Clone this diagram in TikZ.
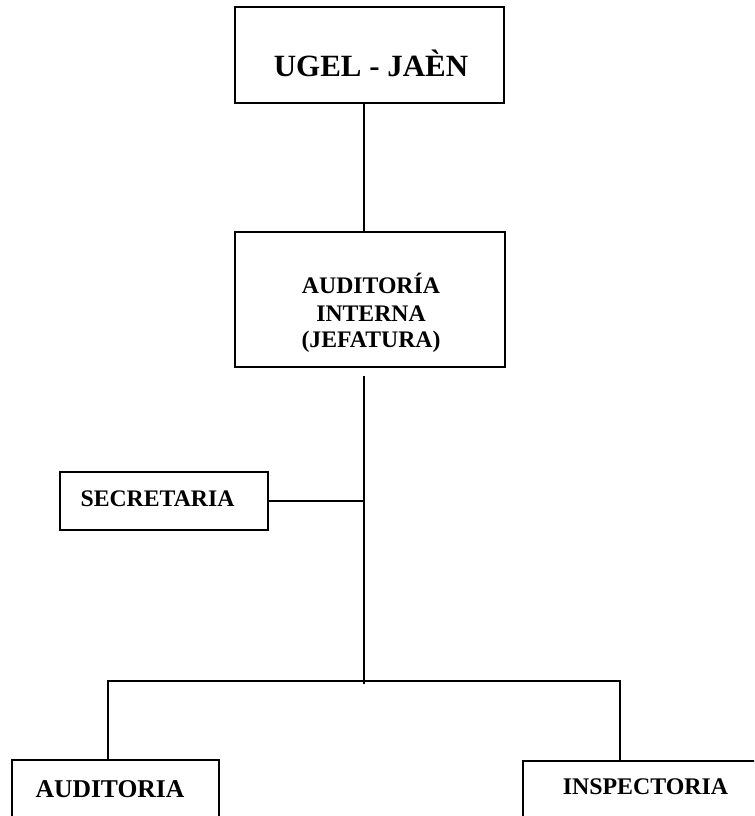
\documentclass[tikz,border=0pt]{standalone}
\usepackage{fontspec}
\setmainfont{Liberation Serif}
\begin{document}
\begin{tikzpicture}[x=0.75pt,y=-0.75pt,
  box/.style={draw=black,line width=1.4pt,rectangle,inner sep=0pt,fill=none},
  link/.style={draw=black,line width=1.4pt},
  lbl/.style={anchor=base,inner sep=0pt,font=\bfseries}]
\useasboundingbox (0,0) rectangle (754,816);
\clip (0,0) rectangle (754,816);
% boxes
\node[box,minimum width=201.75pt,minimum height=72pt] (ugel) at (369.5,55) {};
\node[box,minimum width=202.5pt,minimum height=101.25pt] (aud) at (370,299.5) {};
\node[box,minimum width=156pt,minimum height=43.5pt] (sec) at (164,501) {};
\node[box,minimum width=155.25pt,minimum height=60pt] (audb) at (115.5,800) {};
\node[box,minimum width=207.75pt,minimum height=59.25pt] (insp) at (661.5,800.5) {};
% texts
\node[lbl,font=\fontsize{23.2}{26}\selectfont\bfseries] (tugel) at (371,77) {UGEL - JAÈN};
\node[lbl,font=\fontsize{17.8}{21}\selectfont\bfseries] (taud1) at (371,293) {AUDITORÍA};
\node[lbl,font=\fontsize{17.8}{21}\selectfont\bfseries] (taud2) at (371,321) {INTERNA};
\node[lbl,font=\fontsize{17.8}{21}\selectfont\bfseries] (taud3) at (371,347) {(JEFATURA)};
\node[lbl,font=\fontsize{17.8}{21}\selectfont\bfseries] (tsec) at (157.5,506) {SECRETARIA};
\node[lbl,font=\fontsize{19.2}{22}\selectfont\bfseries] (taudb) at (110,797) {AUDITORIA};
\node[lbl,font=\fontsize{17.9}{21}\selectfont\bfseries] (tinsp) at (645.5,794) {INSPECTORIA};
% connector coordinates
\coordinate (sp) at (364,0);
\coordinate (stop) at (364,376);
\coordinate (sbot) at (364,684);
\coordinate (lA) at (108,681);
\coordinate (lB) at (620,681);
% connectors
\draw[link] (ugel.south -| sp) -- (aud.north -| sp);
\draw[link] (stop) -- (sbot);
\draw[link] (sec.east) -- (sec.east -| sp);
\draw[link] (lA |- audb.north) -- (lA) -- (lB) -- (lB |- insp.north);
\end{tikzpicture}
\end{document}
